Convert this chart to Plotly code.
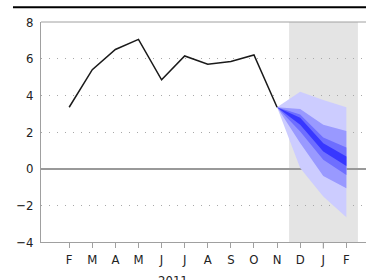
import plotly.graph_objects as go

months = ["F", "M", "A", "M", "J", "J", "A", "S", "O", "N", "D", "J", "F"]
year_label = "2011"
history = [3.35, 5.4, 6.5, 7.05, 4.85, 6.15, 5.7, 5.85, 6.2, 3.35]  # Feb..Nov 2011

# fan bands at N, D, J, F
outer_hi = [3.35, 4.2, 3.75, 3.35]
outer_lo = [3.35, 0.03, -1.52, -2.65]
mid_hi = [3.35, 3.25, 2.4, 2.05]
mid_lo = [3.35, 1.4, -0.4, -1.07]
inner_hi = [3.35, 2.95, 1.7, 1.15]
inner_lo = [3.35, 2.03, 0.48, -0.34]
core_hi = [3.35, 2.78, 1.39, 0.66]
core_lo = [3.35, 2.39, 0.93, 0.15]

y_ticks = [-4, -2, 0, 2, 4, 6, 8]

xi = list(range(len(months)))
hist_x = xi[:len(history)]
fan_x = xi[len(history) - 1:]

fig = go.Figure()

bands = [
    (outer_hi, outer_lo, "rgb(204,204,255)"),
    (mid_hi, mid_lo, "rgb(153,153,255)"),
    (inner_hi, inner_lo, "rgb(110,110,255)"),
    (core_hi, core_lo, "rgb(55,55,255)"),
]
for hi, lo, col in bands:
    fig.add_trace(go.Scatter(
        x=fan_x + fan_x[::-1], y=hi + lo[::-1],
        fill="toself", fillcolor=col, line=dict(width=0),
        mode="lines", hoverinfo="skip", showlegend=False))

fig.add_trace(go.Scatter(x=hist_x, y=history, mode="lines",
                         line=dict(color="#1a1a1a", width=1.5), showlegend=False))

axis_col = "#a0a0a0"
font = dict(family="DejaVu Sans Condensed, Liberation Sans Narrow, Arial Narrow, Liberation Sans", size=13, color="#222")

fig.update_layout(
    width=366, height=280,
    margin=dict(l=41, r=0, t=22, b=38),
    paper_bgcolor="white", plot_bgcolor="white",
    font=font,
    xaxis=dict(range=[-1.22, 12.85], tickvals=xi, ticktext=months,
               showgrid=False, zeroline=False, ticks="outside", ticklen=5,
               tickcolor=axis_col, showline=True, linecolor=axis_col, linewidth=1,
               tickfont=font),
    yaxis=dict(range=[-4, 8], tickvals=y_ticks, showgrid=True,
               gridcolor="#a8a8a8", griddash="1px,7px", gridwidth=1,
               zeroline=True, zerolinecolor="#999999", zerolinewidth=1.5,
               showline=True, linecolor=axis_col, linewidth=1, ticks="",
               ticklabelstandoff=4, tickfont=font),
    shapes=[
        dict(type="rect", xref="x", yref="paper", x0=9.52, x1=12.5, y0=0, y1=1,
             fillcolor="#e4e4e4", line=dict(width=0), layer="below"),
        dict(type="line", xref="paper", yref="paper", x0=0, x1=1, y0=1, y1=1,
             line=dict(color=axis_col, width=1)),
        dict(type="line", xref="paper", yref="paper", x0=-0.0862, x1=1.0, y0=1.0668, y1=1.0668,
             line=dict(color="black", width=2)),
        dict(type="line", xref="x", yref="paper", x0=11, x1=11, y0=0, y1=-0.03,
             line=dict(color=axis_col, width=1)),
    ],
    annotations=[
        dict(text=year_label, x=4.5, xref="x", y=-0.13, yref="paper",
             yanchor="top", xanchor="center", showarrow=False, font=font),
    ],
)

fig.write_html("out.html", config={"displayModeBar": False},
               post_script="document.body.style.margin='0';document.body.style.overflow='hidden';")
